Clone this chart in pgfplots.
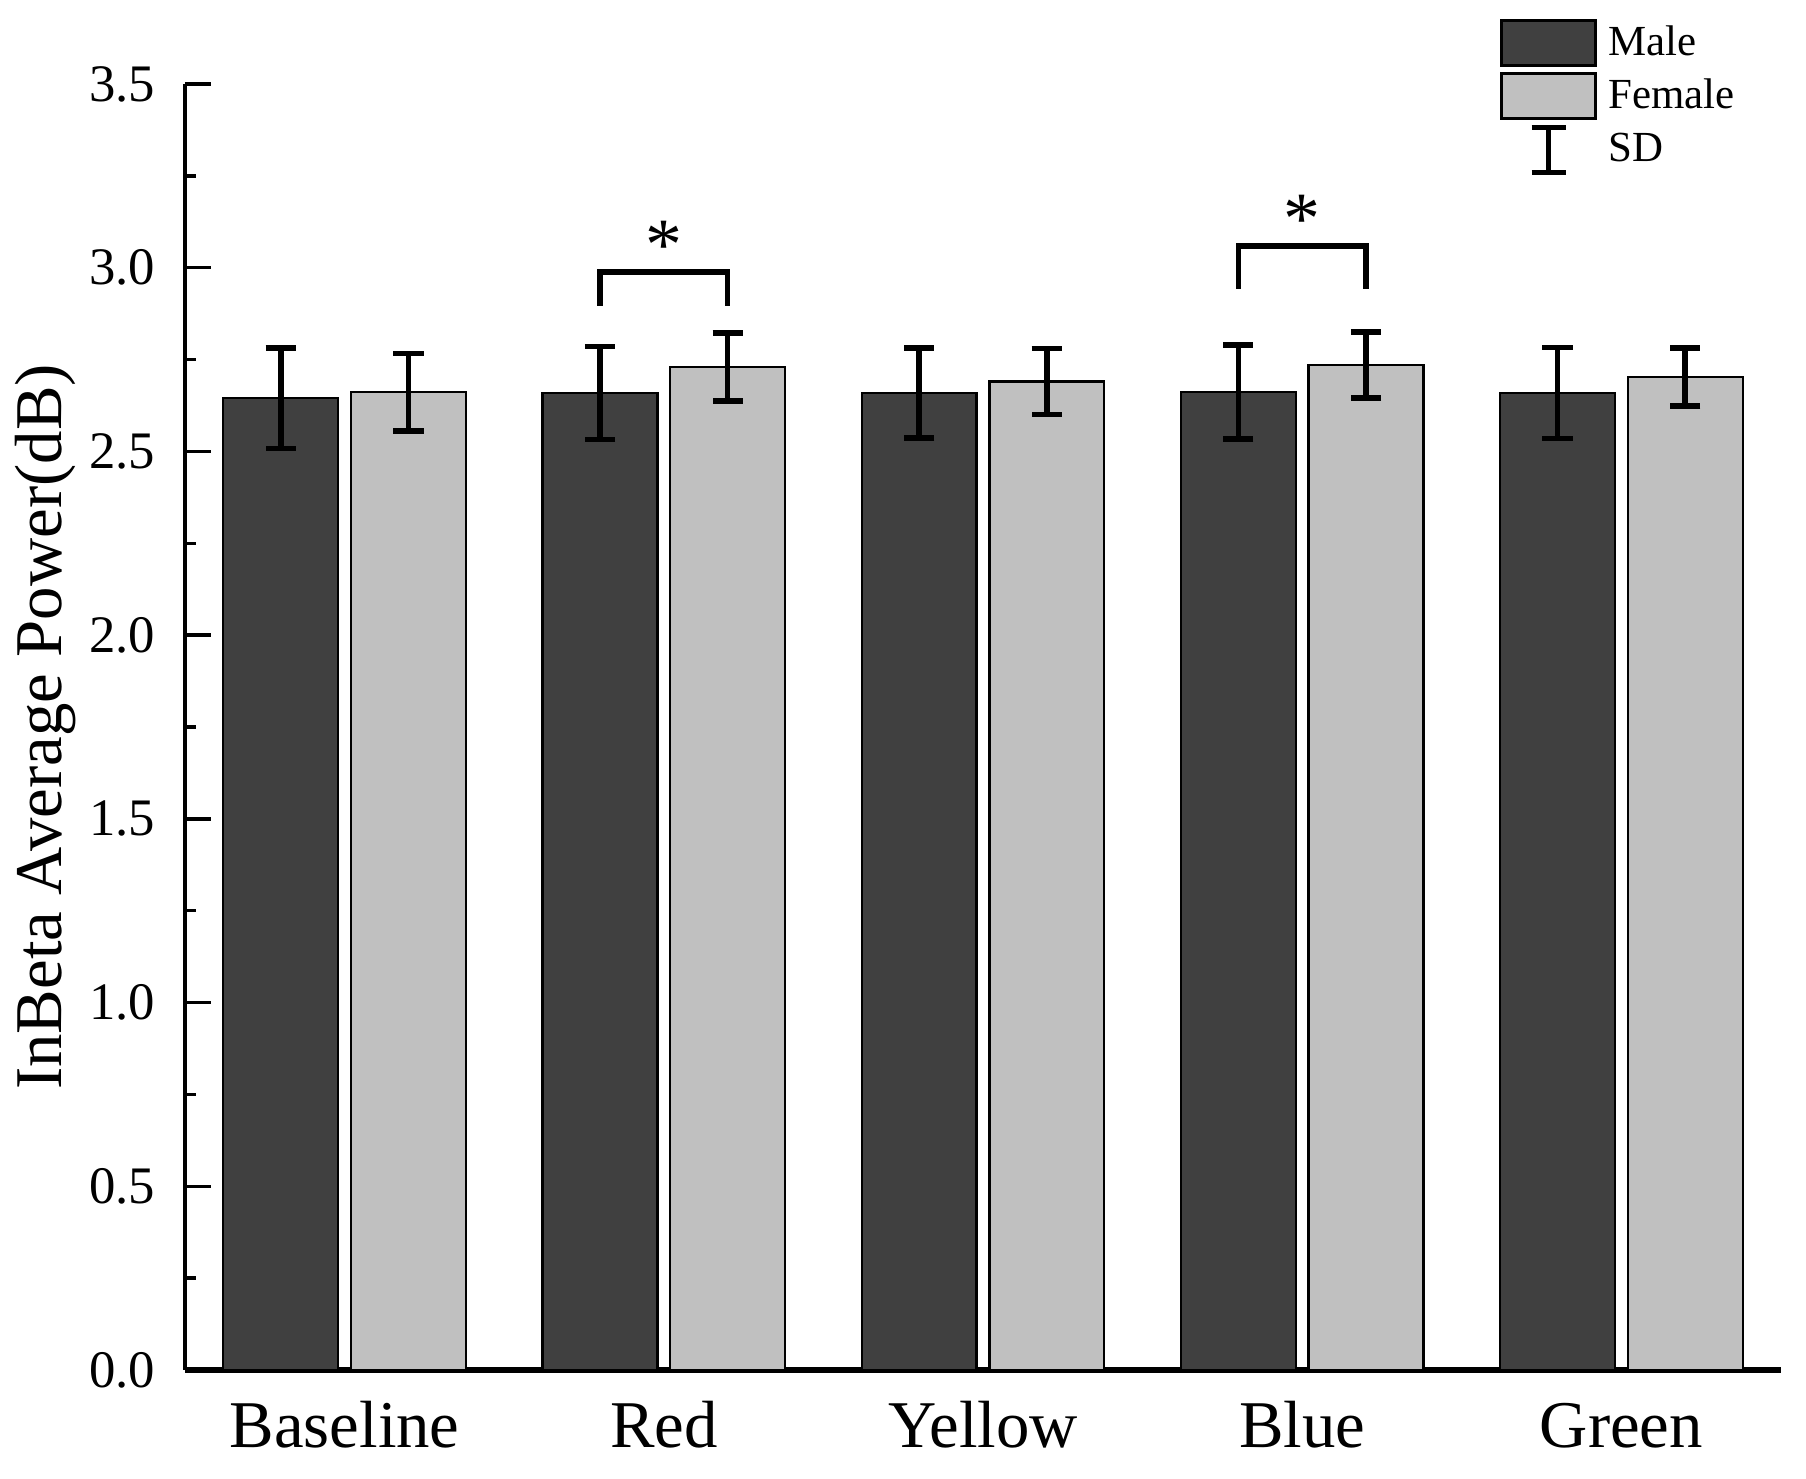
\documentclass[border=0pt]{standalone}
\usepackage{pgfplots}
\pgfplotsset{compat=1.18}
\usepackage{pgfplotstable}
\usepackage{fontspec}
\setmainfont{Liberation Serif}
\definecolor{maleC}{HTML}{404040}
\definecolor{femaleC}{HTML}{C0C0C0}
\pgfplotstableread{
x y err
-0.2 2.645 0.137
0.8 2.659 0.127
1.8 2.659 0.122
2.8 2.662 0.128
3.8 2.659 0.124
}\male
\pgfplotstableread{
x y err
0.2 2.661 0.105
1.2 2.730 0.092
2.2 2.690 0.090
3.2 2.735 0.090
4.2 2.702 0.079
}\female
\begin{document}
\begin{tikzpicture}
\path[use as bounding box] (-1.85cm,-1.09cm) rectangle (16.21cm,13.70cm);
\begin{axis}[
  scale only axis,
  width=15.96cm, height=12.86cm,
  xmin=-0.5, xmax=4.5, ymin=0, ymax=3.5,
  axis lines=left,
  x axis line style={-, line width=1.5pt},
  y axis line style={-, line width=1pt},
  xtick={0,1,2,3,4},
  xticklabels={Baseline,Red,Yellow,Blue,Green},
  xtick style={draw=none},
  ytick={0,0.5,...,3.5},
  minor y tick num=1,
  tick align=inside,
  ytick style={line width=1pt, black},
  major tick length=0.256cm,
  minor tick length=0.11cm,
  /pgf/number format/assume math mode=true,
  yticklabel style={/pgf/number format/.cd, fixed, fixed zerofill, precision=1, /tikz/.cd,
    font=\fontsize{15}{18}\selectfont, inner sep=0pt, anchor=east, xshift=-0.29cm},
  xticklabel style={font=\fontsize{19}{22}\selectfont, anchor=base, yshift=-0.78cm},
  ylabel={InBeta Average Power(dB)},
  every axis y label/.style={at={(axis description cs:-0.0771,0.5)}, anchor=base, rotate=90,
    font=\fontsize{19}{22}\selectfont},
  legend style={at={(axis description cs:0.824,1.0505)}, anchor=north west,
    draw=none, fill=none, inner sep=0pt, outer sep=0pt, row sep=0.047cm, column sep=0.11cm,
    font=\fontsize{12.2}{14}\selectfont, nodes={inner sep=0pt}},
  legend cell align=left,
  clip=false,
]
\addplot[ybar, bar width=0.36, bar shift=0pt, fill=maleC, draw=black, line width=0.65pt,
  legend image code/.code={\draw[fill=maleC, draw=black, line width=0.9pt] (0cm,-0.225cm) rectangle (0.94cm,0.225cm);},
  error bars/.cd, y dir=both, y explicit,
  error bar style={line width=1.6pt, black, solid},
  error mark options={rotate=90, line width=1.6pt, mark size=4.3pt, black, solid}]
  table[x=x, y=y, y error=err] {\male};
\addlegendentry{Male}
\addplot[ybar, bar width=0.36, bar shift=0pt, fill=femaleC, draw=black, line width=0.65pt,
  legend image code/.code={\draw[fill=femaleC, draw=black, line width=0.9pt] (0cm,-0.225cm) rectangle (0.94cm,0.225cm);},
  error bars/.cd, y dir=both, y explicit,
  error bar style={line width=1.6pt, black, solid},
  error mark options={rotate=90, line width=1.6pt, mark size=4.3pt, black, solid}]
  table[x=x, y=y, y error=err] {\female};
\addlegendentry{Female}
\addlegendimage{legend image code/.code={
  \draw[line width=1.6pt, black] (0.47cm,-0.225cm) -- (0.47cm,0.225cm);
  \draw[line width=1.6pt, black] (0.30cm,-0.225cm) -- (0.64cm,-0.225cm);
  \draw[line width=1.6pt, black] (0.30cm,0.225cm) -- (0.64cm,0.225cm);}}
\addlegendentry{SD}
% significance brackets
\addplot[sharp plot, no marks, black, line width=1.6pt, line join=miter, forget plot]
  coordinates {(0.8,2.896) (0.8,2.988) (1.2,2.988) (1.2,2.896)};
\addplot[sharp plot, no marks, black, line width=1.6pt, line join=miter, forget plot]
  coordinates {(2.8,2.943) (2.8,3.059) (3.2,3.059) (3.2,2.943)};
\node[anchor=north, inner sep=0pt, font=\fontsize{21}{24}\selectfont] at (axis cs:1,3.128) {*};
\node[anchor=north, inner sep=0pt, font=\fontsize{21}{24}\selectfont] at (axis cs:3,3.198) {*};
\end{axis}
\end{tikzpicture}
\end{document}
